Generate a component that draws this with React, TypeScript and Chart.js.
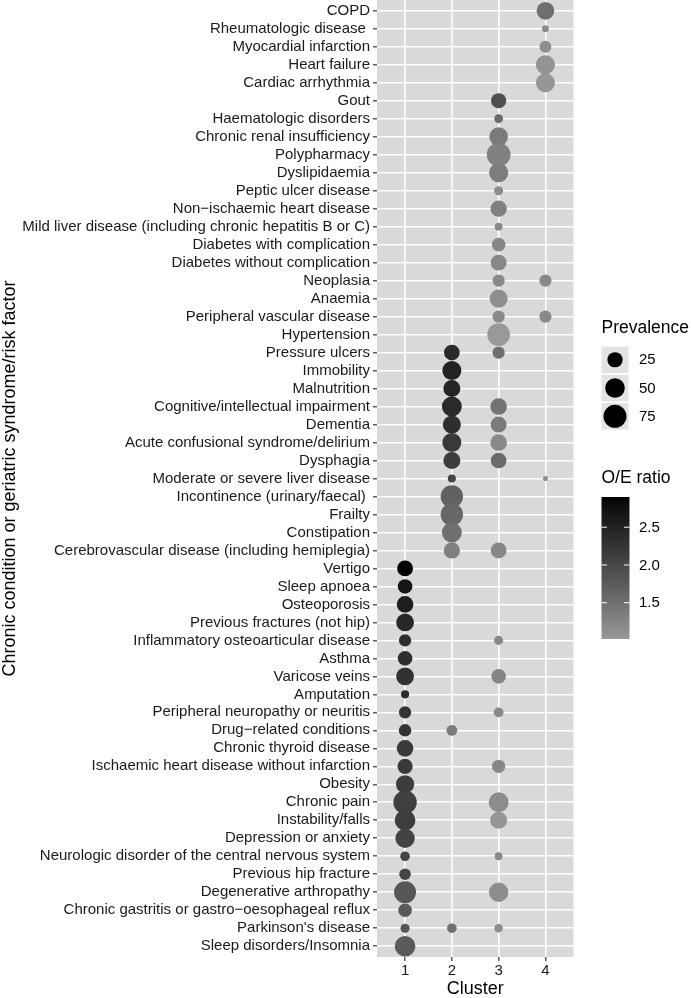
import React, { useEffect, useRef } from 'react';
import { Chart, registerables } from 'chart.js';
Chart.register(...registerables);

const FONT = '"Liberation Sans", Arial, Helvetica, sans-serif';

const categories = [
  'COPD',
  'Rheumatologic disease ',
  'Myocardial infarction',
  'Heart failure',
  'Cardiac arrhythmia',
  'Gout',
  'Haematologic disorders',
  'Chronic renal insufficiency',
  'Polypharmacy',
  'Dyslipidaemia',
  'Peptic ulcer disease',
  'Non\u2212ischaemic heart disease',
  'Mild liver disease (including chronic hepatitis B or C)',
  'Diabetes with complication',
  'Diabetes without complication',
  'Neoplasia',
  'Anaemia',
  'Peripheral vascular disease',
  'Hypertension',
  'Pressure ulcers',
  'Immobility',
  'Malnutrition',
  'Cognitive/intellectual impairment',
  'Dementia',
  'Acute confusional syndrome/delirium',
  'Dysphagia',
  'Moderate or severe liver disease',
  'Incontinence (urinary/faecal) ',
  'Frailty',
  'Constipation',
  'Cerebrovascular disease (including hemiplegia)',
  'Vertigo',
  'Sleep apnoea',
  'Osteoporosis',
  'Previous fractures (not hip)',
  'Inflammatory osteoarticular disease',
  'Asthma',
  'Varicose veins',
  'Amputation',
  'Peripheral neuropathy or neuritis',
  'Drug\u2212related conditions',
  'Chronic thyroid disease',
  'Ischaemic heart disease without infarction',
  'Obesity',
  'Chronic pain',
  'Instability/falls',
  'Depression or anxiety',
  'Neurologic disorder of the central nervous system',
  'Previous hip fracture',
  'Degenerative arthropathy',
  'Chronic gastritis or gastro\u2212oesophageal reflux',
  "Parkinson's disease",
  'Sleep disorders/Insomnia',
];

// Cluster 1
const c1Rows = [31, 32, 33, 34, 35, 36, 37, 38, 39, 40, 41, 42, 43, 44, 45, 46, 47, 48, 49, 50, 51, 52];
const c1Prev = [28, 22, 32, 38, 13, 22, 38, 3.4, 13, 14, 32, 25, 41, 78, 57, 48, 6, 11, 67, 18, 5, 57];
const c1OE = [2.9, 2.68, 2.56, 2.44, 2.33, 2.33, 2.3, 2.39, 2.26, 2.26, 2.17, 2.17, 2.14, 2.09, 2.12, 2.06, 2.03, 2.03, 1.81, 1.78, 1.81, 1.76];

// Cluster 2
const c2Rows = [19, 20, 21, 22, 23, 24, 25, 26, 27, 28, 29, 30, 40, 51];
const c2Prev = [27, 46, 34, 52, 40, 46, 34, 3.4, 70, 70, 52, 30, 9, 6];
const c2OE = [2.39, 2.5, 2.46, 2.39, 2.33, 2.19, 2.14, 2.03, 1.68, 1.6, 1.51, 1.31, 1.36, 1.51];

// Cluster 3
const c3Rows = [5, 6, 7, 8, 9, 10, 11, 12, 13, 14, 15, 16, 17, 18, 19, 22, 23, 24, 25, 30, 35, 37, 39, 42, 44, 45, 47, 49, 51];
const c3Prev = [25, 4.5, 44, 81, 47, 5, 30, 3, 18, 28, 13, 40, 13, 73, 13, 32, 28, 32, 27, 28, 5, 22, 6.5, 17, 52, 34, 3, 48, 4];
const c3OE = [1.9, 1.55, 1.36, 1.29, 1.34, 1.17, 1.31, 1.2, 1.23, 1.23, 1.2, 1.15, 1.2, 1.02, 1.51, 1.46, 1.36, 1.2, 1.55, 1.23, 1.2, 1.25, 1.2, 1.23, 1.17, 1.05, 1.2, 1.17, 1.15];

// Cluster 4
const c4Rows = [0, 1, 2, 3, 4, 15, 17, 26];
const c4Prev = [38, 2, 12, 47, 46, 13, 13, 1.2];
const c4OE = [1.51, 1.17, 1.15, 1.08, 1.05, 1.2, 1.2, 1.17];

const clusterTicks = [1, 2, 3, 4];
const sizeBreaks = [25, 50, 75];
const oeBreaks = [1.5, 2.0, 2.5];

const allPrev = [...c1Prev, ...c2Prev, ...c3Prev, ...c4Prev];
const allOE = [...c1OE, ...c2OE, ...c3OE, ...c4OE];
const prevMin = Math.min(...allPrev);
const prevMax = Math.max(...allPrev);
const oeMin = Math.min(...allOE);
const oeMax = Math.max(...allOE);

const D_MIN = 5;
const D_MAX = 23.7;
function diameter(p: number) {
  const t = Math.max(0, (p - prevMin) / (prevMax - prevMin));
  return D_MIN + (D_MAX - D_MIN) * Math.sqrt(t);
}

const L_LOW = 63.2; // grey60 in CIELAB lightness
function labGray(L: number) {
  const Y = L > 8 ? Math.pow((L + 16) / 116, 3) : L / 903.3;
  const s = Y <= 0.0031308 ? 12.92 * Y : 1.055 * Math.pow(Y, 1 / 2.4) - 0.055;
  const v = Math.round(Math.max(0, Math.min(1, s)) * 255);
  return `rgb(${v},${v},${v})`;
}
function oeColor(v: number) {
  const t = Math.max(0, Math.min(1, (v - oeMin) / (oeMax - oeMin)));
  return labGray(L_LOW * (1 - t));
}

function buildDataset(cluster: number, rows: number[], prev: number[], oe: number[]) {
  return {
    label: 'Cluster ' + cluster,
    data: rows.map((r, i) => ({ x: cluster, y: r + 1, r: diameter(prev[i]) / 2, oe: oe[i] })),
    backgroundColor: (ctx: any) => oeColor(ctx.raw ? ctx.raw.oe : 1),
    borderWidth: 0,
    hoverBorderWidth: 0,
  };
}

const PANEL_LEFT = 377;
const PANEL_RIGHT = 573.5;
const PANEL_BOTTOM = 957;
const W = 691;
const H = 998;

const decorPlugin = {
  id: 'decor',
  beforeDraw(chart: any) {
    const { ctx, chartArea: a } = chart;
    ctx.save();
    ctx.fillStyle = '#D9D9D9';
    ctx.fillRect(a.left, a.top, a.right - a.left, a.bottom - a.top);
    ctx.restore();
  },
  afterDraw(chart: any) {
    const { ctx, chartArea: a } = chart;
    ctx.save();
    ctx.fillStyle = '#000';
    // axis titles
    ctx.font = `18px ${FONT}`;
    ctx.textAlign = 'center';
    ctx.textBaseline = 'middle';
    ctx.fillText('Cluster', (a.left + a.right) / 2, 989);
    ctx.save();
    ctx.translate(10, (a.top + a.bottom) / 2);
    ctx.rotate(-Math.PI / 2);
    ctx.font = `18px ${FONT}`;
    ctx.fillText('Chronic condition or geriatric syndrome/risk factor', 0, 0);
    ctx.restore();

    // size legend
    const lx = 601.5;
    ctx.textAlign = 'left';
    ctx.font = `17.5px ${FONT}`;
    ctx.fillText('Prevalence', lx, 328);
    const keyW = 27;
    const keyH = 26.5;
    let ky = 346.5;
    sizeBreaks.forEach((b) => {
      ctx.fillStyle = '#E3E3E3';
      ctx.fillRect(lx, ky, keyW, keyH);
      ctx.fillStyle = '#000';
      ctx.beginPath();
      ctx.arc(lx + keyW / 2, ky + keyH / 2, diameter(b) / 2, 0, Math.PI * 2);
      ctx.fill();
      ctx.font = `15px ${FONT}`;
      ctx.fillText(String(b), 639, ky + keyH / 2 + 0.5);
      ky += keyH + 1.8;
    });

    // colour legend
    ctx.font = `17.5px ${FONT}`;
    ctx.fillStyle = '#000';
    ctx.fillText('O/E ratio', lx, 478);
    const barTop = 497;
    const barBot = 639;
    const barW = 28;
    for (let y = barTop; y < barBot; y++) {
      const v = oeMax - ((y + 0.5 - barTop) / (barBot - barTop)) * (oeMax - oeMin);
      ctx.fillStyle = oeColor(v);
      ctx.fillRect(lx, y, barW, 1);
    }
    ctx.strokeStyle = '#fff';
    ctx.lineWidth = 1;
    ctx.font = `15px ${FONT}`;
    oeBreaks.forEach((b) => {
      const y = barBot - ((b - oeMin) / (oeMax - oeMin)) * (barBot - barTop);
      ctx.beginPath();
      ctx.moveTo(lx, y);
      ctx.lineTo(lx + 5.5, y);
      ctx.moveTo(lx + barW - 5.5, y);
      ctx.lineTo(lx + barW, y);
      ctx.stroke();
      ctx.fillStyle = '#000';
      ctx.fillText(b.toFixed(1), 639, y + 0.5);
    });
    ctx.restore();
  },
};

export default function App() {
  const ref = useRef<HTMLCanvasElement | null>(null);
  useEffect(() => {
    if (!ref.current) return;
    const chart = new Chart(ref.current, {
      type: 'bubble',
      data: {
        datasets: [
          buildDataset(1, c1Rows, c1Prev, c1OE),
          buildDataset(2, c2Rows, c2Prev, c2OE),
          buildDataset(3, c3Rows, c3Prev, c3OE),
          buildDataset(4, c4Rows, c4Prev, c4OE),
        ] as any,
      },
      options: {
        responsive: false,
        animation: false,
        devicePixelRatio: 1,
        layout: { autoPadding: false, padding: { top: 0, right: W - PANEL_RIGHT, bottom: 0, left: 0 } },
        plugins: { legend: { display: false }, tooltip: { enabled: false } },
        events: [],
        scales: {
          x: {
            type: 'linear',
            min: 0.4,
            max: 4.6,
            afterBuildTicks: (s: any) => {
              s.ticks = clusterTicks.map((v) => ({ value: v }));
            },
            afterFit: (s: any) => {
              s.height = H - PANEL_BOTTOM;
              s.paddingLeft = 0;
              s.paddingRight = 0;
            },
            border: { display: false },
            grid: { color: '#FFFFFF', lineWidth: 1.6, drawTicks: true, tickLength: 4, tickColor: '#333333', tickWidth: 1.2 },
            ticks: {
              autoSkip: false,
              maxRotation: 0,
              padding: 1,
              color: '#1a1a1a',
              font: { family: FONT, size: 15 },
              callback: (v: any) => String(v),
            },
          },
          y: {
            type: 'linear',
            reverse: true,
            min: 0.4,
            max: categories.length + 0.6,
            afterBuildTicks: (s: any) => {
              s.ticks = categories.map((_, i) => ({ value: i + 1 }));
            },
            afterFit: (s: any) => {
              s.width = PANEL_LEFT;
              s.paddingTop = 0;
              s.paddingBottom = 0;
            },
            border: { display: false },
            grid: { color: '#FFFFFF', lineWidth: 1.6, drawTicks: true, tickLength: 4, tickColor: '#333333', tickWidth: 1.2 },
            ticks: {
              autoSkip: false,
              padding: 3,
              color: '#1a1a1a',
              font: { family: FONT, size: 15 },
              callback: (v: any) => categories[Math.round(v) - 1] ?? '',
            },
          },
        },
      },
      plugins: [decorPlugin],
    });
    return () => chart.destroy();
  }, []);
  return (
    <div style={{ position: 'absolute', left: 0, top: 0, width: W, height: H, background: '#fff' }}>
      <canvas ref={ref} width={W} height={H} style={{ display: 'block' }} />
    </div>
  );
}
